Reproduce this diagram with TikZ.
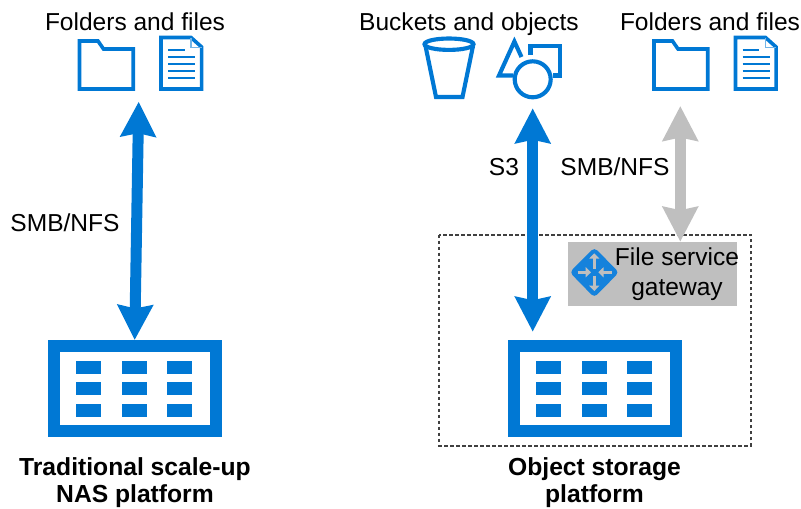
\documentclass[tikz,border=0pt]{standalone}
\usepackage{fontspec}
\setmainfont{Liberation Sans}
\usetikzlibrary{arrows.meta}
\definecolor{azure}{HTML}{0078D4}
\definecolor{gatefill}{HTML}{BFBFBF}
\definecolor{diamondblue}{HTML}{1582DC}
\definecolor{boxline}{HTML}{404040}
\tikzset{
  x=0.75pt,y=-0.75pt,
  lbl/.style={inner sep=0pt,anchor=base,font=\fontsize{18.4pt}{22pt}\selectfont,text=black},
  lblb/.style={lbl,font=\fontsize{18.5pt}{22pt}\selectfont\bfseries},
  iconline/.style={draw=azure,line width=2.7pt,miter limit=10},
  objline/.style={draw=azure,line width=3.1pt,miter limit=10},
  docline/.style={draw=azure,line width=1.5pt},
  bigarrow/.style={line width=8.25pt,{Stealth[width=26pt,length=26pt,inset=2.4pt]}-{Stealth[width=26pt,length=26pt,inset=2.4pt]}},
  nasbox/.style={draw=azure,fill=white,line width=9pt,minimum width=121.5pt,minimum height=63.5pt,inner sep=0pt,rectangle},
  nascell/.style={fill=azure},
  gatebox/.style={fill=gatefill,minimum width=126.75pt,minimum height=47.75pt,inner sep=0pt,rectangle},
  dashbox/.style={draw=boxline,line width=1.5pt,dash pattern=on 2.6pt off 1.9pt},
  gatearrow/.style={draw=gatefill,line width=2pt,-{Triangle[width=7.5pt,length=4pt]}},
}
\newcommand{\folderdoc}[1]{%
  \begin{scope}[shift={(#1,0)}]
    \draw[iconline] (79.5,41) -- (98,41) -- (103.5,49) -- (133.2,49) -- (133.2,89) -- (79.5,89) -- cycle;
    \draw[iconline] (161,37.5) -- (191,37.5) -- (201.6,47) -- (201.6,89) -- (161,89) -- cycle;
    \draw[draw=azure!55,line width=0.8pt] (191,37.5) -- (191,47.7) -- (201.6,47.7);
    \draw[docline] (168,50) -- (184.5,50);
    \foreach \yy in {57,64,70.7,77.7} \draw[docline] (168,\yy) -- (195,\yy);
  \end{scope}}
\newcommand{\nasicon}[2]{%
  \node[nasbox] (#1) at (#2,388.3) {};
  \begin{scope}[shift={(#2-594.7,0)}]
    \foreach \xx in {536,582,627}
      \foreach \yy in {361,382,404}
        \fill[nascell] (\xx,\yy) rectangle ++(25,13);
  \end{scope}}
\begin{document}
\begin{tikzpicture}
\useasboundingbox (0,0) rectangle (801,508);

% dashed box and gateway
\draw[dashbox] (439.3,234.7) rectangle (751,445.7);
\node[gatebox] (gate) at (652.5,273.8) {};

% icons
\folderdoc{0}
\folderdoc{574.5}
\nasicon{nasL}{134.7}
\nasicon{nasR}{594.7}

% bucket
\draw[objline] (425.5,46) -- (436,97) -- (462.5,97) -- (473,46);
\draw[objline] (449,44.2) ellipse (24.5 and 5.7);

% objects
\draw[objline] (521.5,57) -- (514.4,41.5) -- (499,75.5) -- (513,75.5);
\draw[objline] (530.5,55) -- (530.5,45.7) -- (560.3,45.7) -- (560.3,75.5) -- (553,75.5);
\draw[objline] (532.7,79.3) circle (18);

% diamond
\fill[diamondblue,rounded corners=3pt] (594.3,247.5) -- (619,272.3) -- (594.3,297.5) -- (569.7,272.3) -- cycle;
\draw[gatearrow] (594.3,269) -- (594.3,253.3);
\draw[gatearrow] (594.3,275.5) -- (594.3,291);
\draw[gatearrow] (577.7,272.3) -- (591,272.3);
\draw[gatearrow] (611.7,272.3) -- (598.3,272.3);

% labels
\node[lbl] (t1) at (135,30) {Folders and files};
\node[lbl] (t2) at (469,30) {Buckets and objects};
\node[lbl] (t3) at (710,30) {Folders and files};
\node[lbl] (t4) at (65,231) {SMB/NFS};
\node[lbl] (t5) at (504,175) {S3};
\node[lbl] (t6) at (615,175) {SMB/NFS};
\node[lbl] (t7) at (677,265) {File service};
\node[lbl] (t8) at (677,295) {gateway};
\node[lblb] (t9) at (135,475) {Traditional scale-up};
\node[lblb] (t10) at (135,502.5) {NAS platform};
\node[lblb] (t11) at (594.5,475) {Object storage};
\node[lblb] (t12) at (594.5,502.5) {platform};

% connectors
\coordinate (topL) at (138.7,101.7);
\coordinate (topR) at (532.7,108.3);
\coordinate (topG) at (680.3,106);
\draw[bigarrow,azure] (topL) -- (nasL.north);
\draw[bigarrow,azure] (topR) -- ([yshift=6.2pt]topR |- nasR.north);
\draw[bigarrow,gatefill] (topG) -- (topG |- gate.north);
\end{tikzpicture}
\end{document}
